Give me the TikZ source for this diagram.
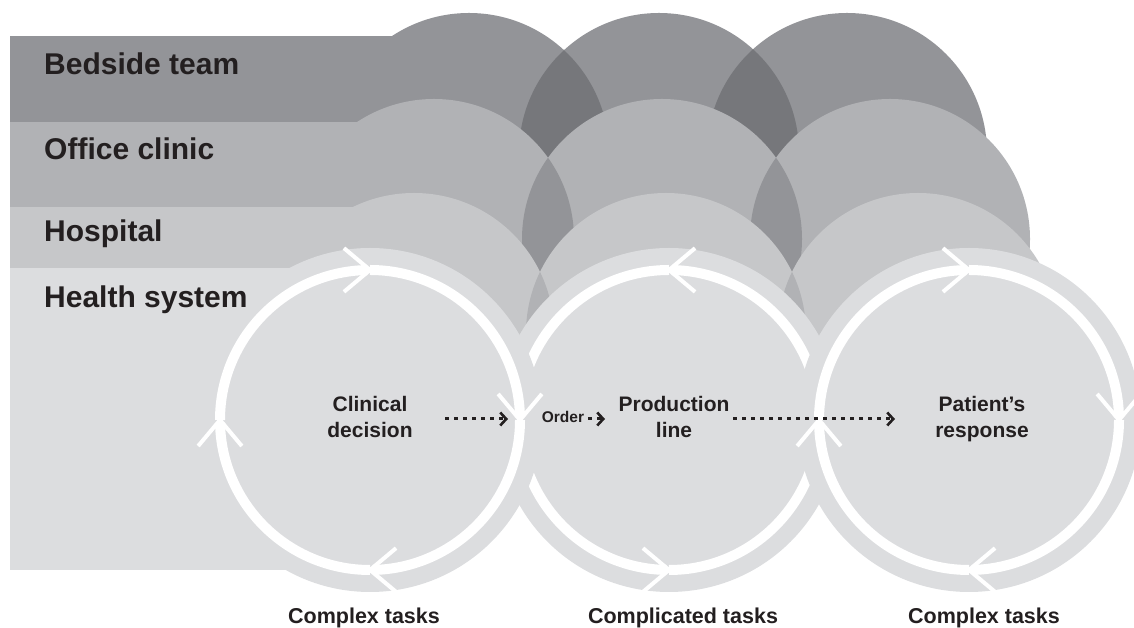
\documentclass[tikz,border=0pt]{standalone}
\usepackage{fontspec}
\setmainfont{Liberation Sans}
\usetikzlibrary{calc,arrows.meta}
\definecolor{layA}{HTML}{939498}
\definecolor{layAd}{HTML}{76777B}
\definecolor{layB}{HTML}{B1B2B5}
\definecolor{layBd}{HTML}{939498}
\definecolor{layC}{HTML}{C6C7C9}
\definecolor{layCd}{HTML}{B1B2B5}
\definecolor{layD}{HTML}{DCDDDF}
\definecolor{txt}{HTML}{231F20}
\newcommand\mychev[3]{%
  \draw[chevron] ($(#1)+(#2:150)+(#2+#3+40:34)$) -- ($(#1)+(#2:150)$) -- ($(#1)+(#2:150)+(#2+#3-40:34)$);}
\newcommand\myarc[3]{%
  \draw[ring] ($(#1)+(#2:150)$) arc[start angle=#2, end angle=#3, radius=150];}
\tikzset{
  ring/.style={draw=white, line width=10pt, line cap=butt},
  chevron/.style={draw=white, line width=4pt, line join=miter, line cap=butt},
  bandlbl/.style={font=\fontsize{30}{31}\selectfont\bfseries, text=txt, anchor=base west, inner sep=0pt},
  circlbl/.style={font=\fontsize{21}{26}\selectfont\bfseries, text=txt, align=center, anchor=base, inner sep=0pt},
  tasklbl/.style={font=\fontsize{21.5}{24}\selectfont\bfseries, text=txt, anchor=base, inner sep=0pt},
  smalllbl/.style={font=\fontsize{15.5}{17}\selectfont\bfseries, text=txt, anchor=base, inner sep=0pt},
  dotarr/.style={draw=txt, line width=3pt, dash pattern=on 4pt off 5pt,
    -{Straight Barb[length=6pt,width=13pt,line width=2.6pt]}},
}
\begin{document}
\begin{tikzpicture}[x=1pt,y=1pt]
\useasboundingbox (0,0) rectangle (1134,628);
\clip (0,0) rectangle (1134,628);
% ---- layer 1: bedside team
\fill[layA] (10,592) rectangle (469,475);
\foreach \cx in {469,659,847} \fill[layA] (\cx,475) circle (140);
\begin{scope}\clip (469,475) circle (140); \fill[layAd] (659,475) circle (140);\end{scope}
\begin{scope}\clip (659,475) circle (140); \fill[layAd] (847,475) circle (140);\end{scope}
% ---- layer 2: office clinic
\fill[layB] (10,506) rectangle (434,389);
\foreach \cx in {434,662,890} \fill[layB] (\cx,389) circle (140);
\begin{scope}\clip (434,389) circle (140); \fill[layBd] (662,389) circle (140);\end{scope}
\begin{scope}\clip (662,389) circle (140); \fill[layBd] (890,389) circle (140);\end{scope}
% ---- layer 3: hospital
\fill[layC] (10,421) rectangle (414,295);
\foreach \cx in {414,666,918} \fill[layC] (\cx,295) circle (140);
\begin{scope}\clip (414,295) circle (140); \fill[layCd] (666,295) circle (140);\end{scope}
\begin{scope}\clip (666,295) circle (140); \fill[layCd] (918,295) circle (140);\end{scope}
% ---- layer 4: health system
\fill[layD] (10,360) rectangle (370,58);
\coordinate (c1) at (370,208);
\coordinate (c2) at (669,208);
\coordinate (c3) at (969,208);
% middle cycle (counter-clockwise)
\fill[layD] (c2) circle (172);
\myarc{c2}{0}{89}\myarc{c2}{90}{180}\myarc{c2}{180}{269}\myarc{c2}{270}{360}
\mychev{c2}{90}{-90}\mychev{c2}{270}{-90}
% left cycle (clockwise)
\fill[layD] (c1) circle (172);
\myarc{c1}{180}{91}\myarc{c1}{90}{1}\myarc{c1}{0}{-89}\myarc{c1}{-90}{-179}
\mychev{c1}{90}{90}\mychev{c1}{0}{90}\mychev{c1}{-90}{90}\mychev{c1}{-180}{90}
% right cycle (clockwise)
\fill[layD] (c3) circle (172);
\myarc{c3}{180}{91}\myarc{c3}{90}{1}\myarc{c3}{0}{-89}\myarc{c3}{-90}{-179}
\mychev{c3}{90}{90}\mychev{c3}{0}{90}\mychev{c3}{-90}{90}\mychev{c3}{-180}{90}
% ---- labels
\node[bandlbl] (bt) at (44,553) {Bedside team};
\node[bandlbl] (oc) at (44,468) {Office clinic};
\node[bandlbl] (hp) at (44,386) {Hospital};
\node[bandlbl] (hs) at (44,320) {Health system};
\node[circlbl] (cd) at (370,190) {Clinical\\decision};
\node[circlbl] (pl) at (674,190) {Production\\line};
\node[circlbl] (pr) at (982,190) {Patient’s\\response};
\node[smalllbl] (od) at (563,205) {Order};
\node[tasklbl] (t1) at (364,4) {Complex tasks};
\node[tasklbl] (t2) at (683,4) {Complicated tasks};
\node[tasklbl] (t3) at (984,4) {Complex tasks};
% ---- dotted arrows
\coordinate (a1s) at (445,209); \coordinate (a1e) at (508,209);
\coordinate (a2s) at (588,209); \coordinate (a2e) at (605,209);
\coordinate (a3s) at (733,209); \coordinate (a3e) at (895,209);
\draw[dotarr] (a1s) -- (a1e);
\draw[dotarr] (a2s) -- (a2e);
\draw[dotarr] (a3s) -- (a3e);
\end{tikzpicture}
\end{document}
